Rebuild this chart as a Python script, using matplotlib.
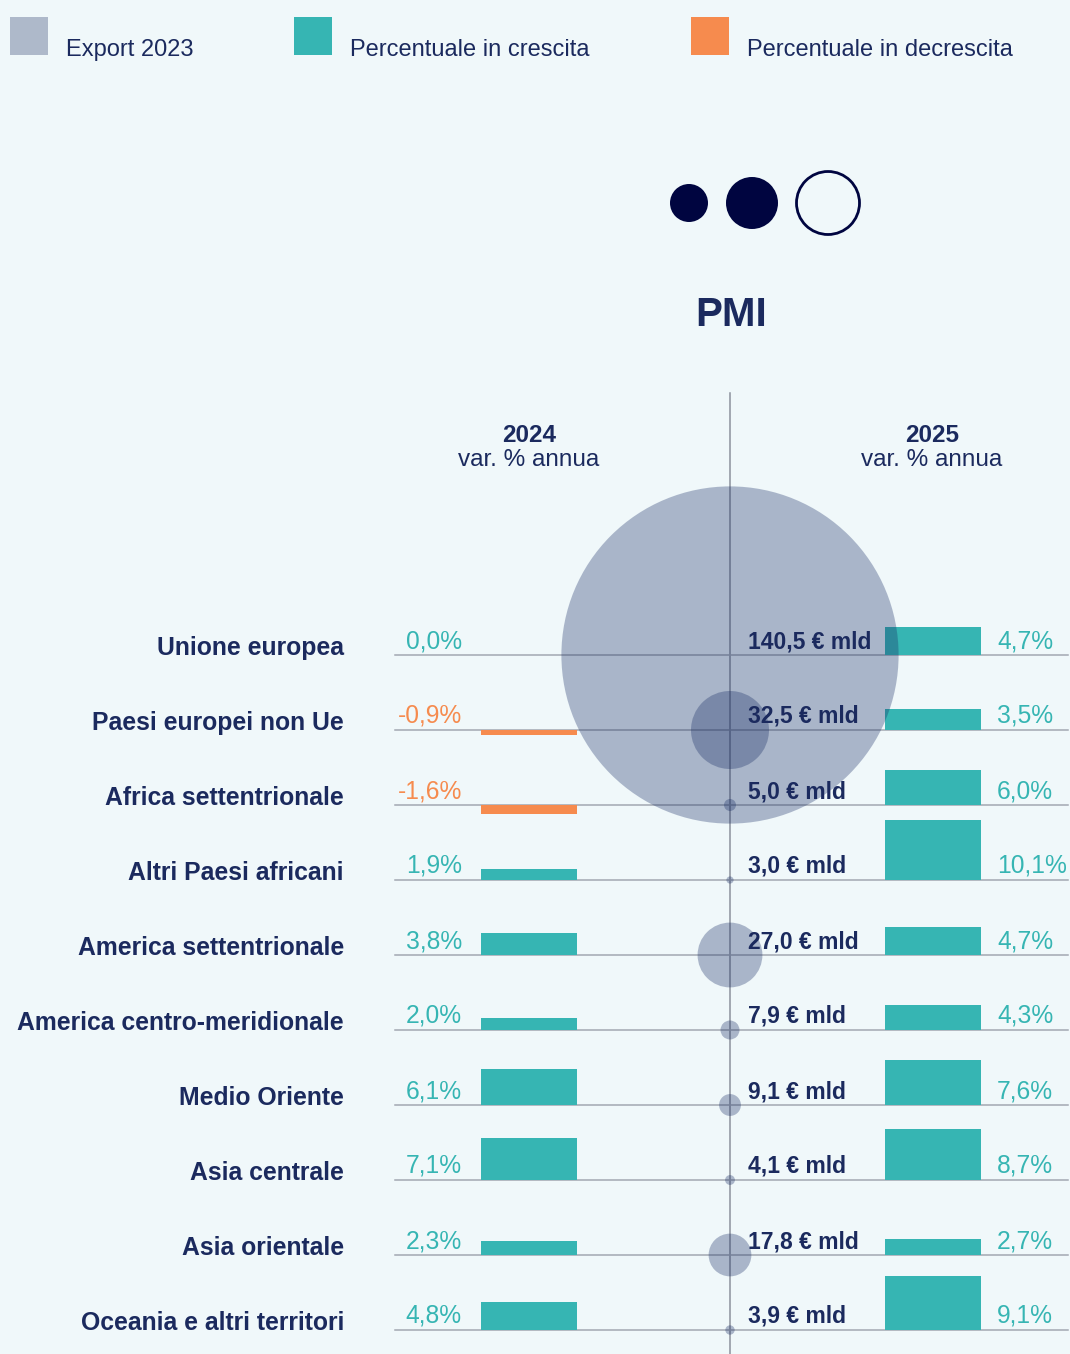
import matplotlib.pyplot as plt
from matplotlib.patches import Circle, Rectangle

plt.rcParams['font.family'] = ['Liberation Sans', 'DejaVu Sans']

# export PMI per area: valore 2023 (mld €) e variazioni % annue
regions = ['Unione europea', 'Paesi europei non Ue', 'Africa settentrionale',
           'Altri Paesi africani', 'America settentrionale',
           'America centro-meridionale', 'Medio Oriente', 'Asia centrale',
           'Asia orientale', 'Oceania e altri territori']
export_2023 = [140.5, 32.5, 5.0, 3.0, 27.0, 7.9, 9.1, 4.1, 17.8, 3.9]
var_2024 = [0.0, -0.9, -1.6, 1.9, 3.8, 2.0, 6.1, 7.1, 2.3, 4.8]
var_2025 = [4.7, 3.5, 6.0, 10.1, 4.7, 4.3, 7.6, 8.7, 2.7, 9.1]

legend_labels = ['Export 2023', 'Percentuale in crescita', 'Percentuale in decrescita']

BG = '#f0f8fa'
NAVY = '#1b2a5e'
TEAL = '#36b5b3'
ORANGE = '#f68b4e'
GREY = '#aeb9ca'
LINE = '#a3a8b2'
DOT = '#000540'

W, H = 1070, 1354
fig = plt.figure(figsize=(W / 100, H / 100), dpi=100, facecolor=BG)
ax = fig.add_axes([0, 0, 1, 1])
ax.set_xlim(0, W)
ax.set_ylim(H, 0)
ax.axis('off')
ax.set_facecolor(BG)

def fmt(v):
    return f'{v:.1f}'.replace('.', ',')

# legenda
for x0, lab, col in zip([10, 294, 691], legend_labels, [GREY, TEAL, ORANGE]):
    ax.add_patch(Rectangle((x0, 17), 38, 38, color=col, lw=0))
    ax.text(x0 + 56, 56, lab, fontsize=17, color=NAVY, va='baseline', ha='left')

# icona a pallini e titolo
ax.add_patch(Circle((689, 203), 19, color=DOT, lw=0))
ax.add_patch(Circle((752, 203), 26, color=DOT, lw=0))
ax.add_patch(Circle((828, 203), 31.5, facecolor='none', edgecolor=DOT, lw=2))
ax.text(731, 315, 'PMI', fontsize=29, fontweight='bold', color=NAVY,
        ha='center', va='center')

# intestazioni colonne
for xc, year in [(529, '2024'), (932, '2025')]:
    ax.text(xc, 436, year, fontsize=17.5, fontweight='bold', color=NAVY,
            ha='center', va='center')
    ax.text(xc, 460, 'var. % annua', fontsize=17.5, color=NAVY,
            ha='center', va='center')

row0, step = 655, 75
bar_scale = 5.9      # px per punto percentuale
r_scale = 1.2        # raggio in px per mld €
cx = 730
left_c, right_c, bar_w = 529, 933, 96

ax.plot([cx, cx], [393, H], color='#8c929d', lw=1.1, zorder=1)

for i, name in enumerate(regions):
    y = row0 + step * i
    ax.plot([395, 1068], [y, y], color=LINE, lw=1.1, zorder=1)

    ax.text(344, y, name, fontsize=17.8, fontweight='bold', color=NAVY,
            ha='right', va='baseline')

    v24 = var_2024[i]
    c24 = TEAL if v24 >= 0 else ORANGE
    ax.bar(left_c, -v24 * bar_scale, width=bar_w, bottom=y, color=c24,
           lw=0, zorder=2)
    ax.text(462, y - 7, fmt(v24) + '%', fontsize=17.7, color=c24,
            ha='right', va='baseline')

    v25 = var_2025[i]
    c25 = TEAL if v25 >= 0 else ORANGE
    ax.bar(right_c, -v25 * bar_scale, width=bar_w, bottom=y, color=c25,
           lw=0, zorder=2)
    ax.text(997, y - 7, fmt(v25) + '%', fontsize=17.7, color=c25,
            ha='left', va='baseline')

    ax.add_patch(Circle((cx, y), export_2023[i] * r_scale, color='#1a2f66',
                        alpha=0.33, lw=0, zorder=3))
    ax.text(748, y - 7, fmt(export_2023[i]) + ' € mld', fontsize=16.5,
            fontweight='bold', color=NAVY, ha='left', va='baseline', zorder=4)

fig.savefig('out.png', dpi=100, facecolor=BG)
